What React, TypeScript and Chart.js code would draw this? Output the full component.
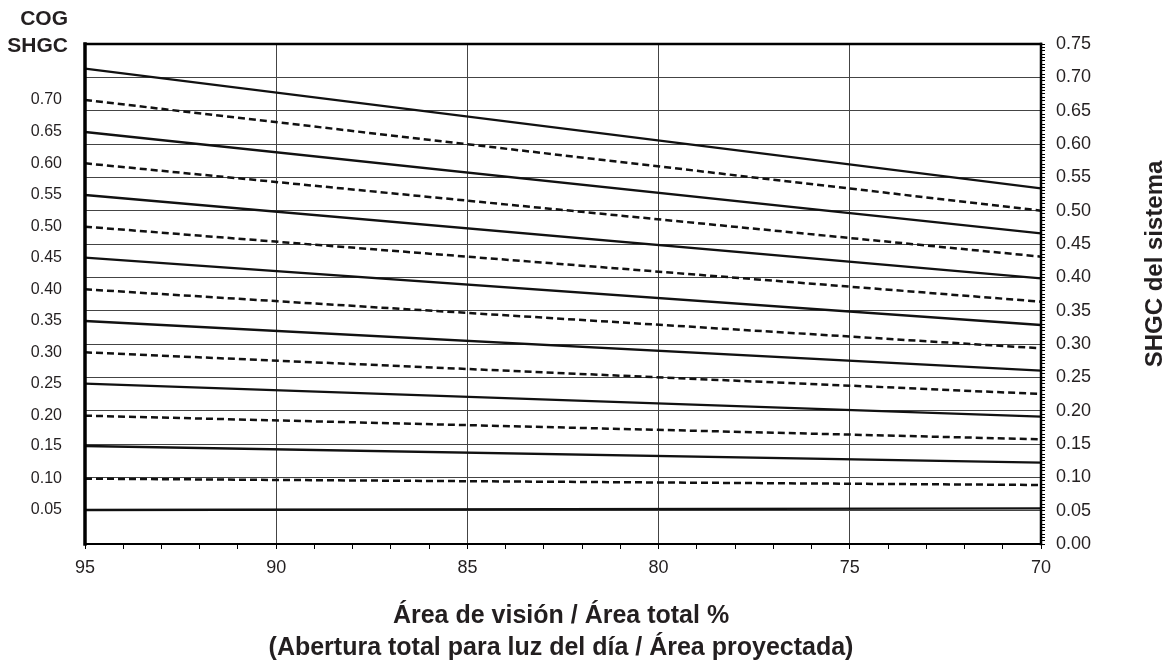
import React, { useEffect, useRef } from "react";
import { Chart, registerables } from "chart.js";

Chart.register(...registerables);

// Vision area / total area (%) — x positions of each line's endpoints
const visionArea: number[] = [95, 70];

// COG SHGC value of each line (top to bottom)
const cogValues: number[] = [0.75, 0.7, 0.65, 0.6, 0.55, 0.5, 0.45, 0.4, 0.35, 0.3, 0.25, 0.2, 0.15, 0.1, 0.05];

// System SHGC at 95% and at 70% for each line
const sysAt95: number[] = [0.713, 0.666, 0.618, 0.571, 0.5235, 0.476, 0.4295, 0.382, 0.3345, 0.2875, 0.2405, 0.1925, 0.147, 0.098, 0.051];
const sysAt70: number[] = [0.5335, 0.5, 0.466, 0.431, 0.3985, 0.3635, 0.3285, 0.2935, 0.26, 0.225, 0.191, 0.157, 0.122, 0.0885, 0.0535];

// Left-axis labels (COG SHGC), shown for all lines except the top one
const leftLabels: string[] = ["0.70", "0.65", "0.60", "0.55", "0.50", "0.45", "0.40", "0.35", "0.30", "0.25", "0.20", "0.15", "0.10", "0.05"];

// Right-axis range and tick step
const yMin = 0;
const yMax = 0.75;
const yMinorStep = 0.005;
const yMajorStep = 0.05;

// X-axis range and tick step
const xMin = 70;
const xMax = 95;
const xMinorStep = 1;
const xMajorStep = 5;

const xTitle1 = "Área de visión / Área total %";
const xTitle2 = "(Abertura total para luz del día / Área proyectada)";
const yRightTitle = "SHGC del sistema";
const yLeftTitle1 = "COG";
const yLeftTitle2 = "SHGC";

const FONT = "'Liberation Sans', Arial, Helvetica, sans-serif";
const TEXT = "#231f20";

const isMajor = (v: number, step: number) => Math.abs(v / step - Math.round(v / step)) < 1e-6;

export default function App() {
  const canvasRef = useRef<HTMLCanvasElement | null>(null);

  useEffect(() => {
    const canvas = canvasRef.current;
    if (!canvas) return;

    const datasets = cogValues.map((cog, i) => {
      const dashed = i % 2 === 1;
      return {
        label: "COG " + cog.toFixed(2),
        data: visionArea.map((x, j) => ({ x, y: j === 0 ? sysAt95[i] : sysAt70[i] })),
        borderColor: "#111",
        backgroundColor: "#111",
        borderWidth: dashed ? 2.5 : 2.3,
        borderDash: dashed ? [7, 4] : [],
        pointRadius: 0,
        fill: false,
        tension: 0,
        yAxisID: "y",
      };
    });

    const textPlugin = {
      id: "texts",
      afterDraw(chart: any) {
        const ctx = chart.ctx;
        const a = chart.chartArea;
        ctx.save();
        // frame
        ctx.strokeStyle = "#000";
        ctx.lineCap = "square";
        ctx.lineWidth = 3.5;
        ctx.beginPath();
        ctx.moveTo(a.left, a.top);
        ctx.lineTo(a.left, a.bottom);
        ctx.stroke();
        ctx.lineWidth = 2.5;
        ctx.beginPath();
        ctx.moveTo(a.left, a.top);
        ctx.lineTo(a.right, a.top);
        ctx.stroke();
        ctx.beginPath();
        ctx.moveTo(a.right, a.top);
        ctx.lineTo(a.right, a.bottom);
        ctx.stroke();
        ctx.lineWidth = 2.2;
        ctx.beginPath();
        ctx.moveTo(a.left, a.bottom);
        ctx.lineTo(a.right, a.bottom);
        ctx.stroke();

        ctx.fillStyle = TEXT;
        // top-left title
        ctx.font = `bold 21px ${FONT}`;
        ctx.textAlign = "right";
        ctx.textBaseline = "alphabetic";
        ctx.fillText(yLeftTitle1, 68, 25);
        ctx.fillText(yLeftTitle2, 68, 52);

        // x title
        const cx = (a.left + a.right) / 2 - 2;
        ctx.textAlign = "center";
        ctx.font = `bold 25px ${FONT}`;
        ctx.fillText(xTitle1, cx, 623);
        ctx.fillText(xTitle2, cx, 655);

        // right title
        ctx.translate(1162, 264);
        ctx.rotate(-Math.PI / 2);
        ctx.font = `bold 24px ${FONT}`;
        ctx.textAlign = "center";
        ctx.fillText(yRightTitle, 0, 0);
        ctx.restore();
      },
    };

    const chart = new Chart(canvas, {
      type: "line",
      data: { datasets },
      options: {
        animation: false,
        responsive: true,
        maintainAspectRatio: false,
        layout: { padding: { top: 44, left: 0, right: 0, bottom: 0 } },
        plugins: {
          legend: { display: false },
          tooltip: { enabled: false },
          title: { display: false },
        },
        scales: {
          x: {
            type: "linear",
            position: "bottom",
            reverse: true,
            min: xMin,
            max: xMax,
            afterBuildTicks: (scale: any) => {
              const t = [];
              for (let v = xMin; v <= xMax + 1e-9; v += xMinorStep) t.push({ value: v });
              scale.ticks = t;
            },
            afterFit: (scale: any) => {
              scale.height = 125;
            },
            ticks: {
              autoSkip: false,
              maxRotation: 0,
              padding: 8,
              color: TEXT,
              font: { family: FONT, size: 18 },
              callback: (v: any) => (isMajor(Number(v), xMajorStep) ? String(v) : ""),
            },
            grid: {
              color: (c: any) => (c.tick && isMajor(c.tick.value, xMajorStep) ? "#444" : "rgba(0,0,0,0)"),
              tickColor: "#000",
              lineWidth: 1,
              tickLength: 5,
              drawTicks: true,
            },
            border: { display: false },
          },
          y: {
            type: "linear",
            position: "right",
            min: yMin,
            max: yMax,
            afterBuildTicks: (scale: any) => {
              const t = [];
              const n = Math.round((yMax - yMin) / yMinorStep);
              for (let i = 0; i <= n; i++) t.push({ value: +(yMin + i * yMinorStep).toFixed(4) });
              scale.ticks = t;
            },
            afterFit: (scale: any) => {
              scale.width = 133;
            },
            ticks: {
              autoSkip: false,
              padding: 11,
              color: TEXT,
              font: { family: FONT, size: 18 },
              callback: (v: any) => (isMajor(Number(v), yMajorStep) ? Number(v).toFixed(2) : ""),
            },
            grid: {
              color: (c: any) => (c.tick && isMajor(c.tick.value, yMajorStep) ? "#444" : "rgba(0,0,0,0)"),
              tickColor: "#000",
              lineWidth: 1,
              tickLength: 4,
            },
            border: { display: false },
          },
          yL: {
            type: "linear",
            position: "left",
            min: yMin,
            max: yMax,
            afterBuildTicks: (scale: any) => {
              scale.ticks = leftLabels.map((_, i) => ({ value: sysAt95[i + 1] }));
            },
            afterFit: (scale: any) => {
              scale.width = 85;
            },
            ticks: {
              autoSkip: false,
              padding: 23,
              color: TEXT,
              font: { family: FONT, size: 16 },
              callback: (_v: any, i: number) => leftLabels[i],
            },
            grid: { display: false, drawTicks: false },
            border: { display: false },
          },
        },
      },
      plugins: [textPlugin],
    } as any);

    return () => chart.destroy();
  }, []);

  return (
    <div style={{ position: "fixed", left: 0, top: 0, width: 1174, height: 669, background: "#fff" }}>
      <canvas ref={canvasRef} />
    </div>
  );
}
